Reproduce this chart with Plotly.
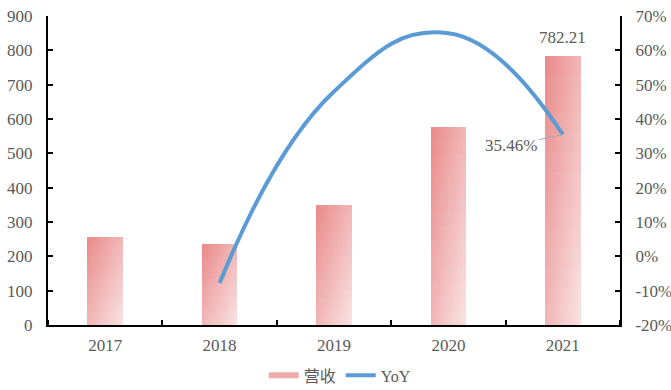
import plotly.graph_objects as go

years = ["2017", "2018", "2019", "2020", "2021"]
revenue = [256, 236, 350, 577.4, 782.21]
yoy = [None, -7.8, 48.0, 65.0, 35.46]
left_ticks = [0, 100, 200, 300, 400, 500, 600, 700, 800, 900]
right_ticks = [-20, -10, 0, 10, 20, 30, 40, 50, 60, 70]

font_serif = "Liberation Serif, Times New Roman, serif"
grey = "#595959"
xpos = list(range(len(years)))

fig = go.Figure()

# 2-D gradient bars via slices (horizontal) and stacked segments (vertical)
N = 12
M = 14
W = 0.31
c0 = (234, 140, 140)   # top-left
c1 = (248, 224, 224)   # bottom-right
for i in range(N):
    for j in range(M):
        t = 0.5 * (i / (N - 1)) + 0.5 * (1 - j / (M - 1))
        col = "rgb(%d,%d,%d)" % tuple(round(a + (b - a) * t) for a, b in zip(c0, c1))
        wmul = 1.0 if i == N - 1 else 1.4
        hmul = 1.0 if j == M - 1 else 1.3
        fig.add_trace(go.Bar(
            x=xpos, y=[v / M * hmul for v in revenue],
            base=[v * j / M for v in revenue],
            width=W / N * wmul, offset=-W / 2 + i * W / N,
            marker=dict(color=col, line=dict(width=0)), showlegend=False,
            hoverinfo="skip", yaxis="y"))

fig.add_trace(go.Scatter(x=[-10, -9], y=[0, 0], name="营收", mode="lines",
                         line=dict(color="rgb(238,172,172)", width=6), yaxis="y"))

fig.add_trace(go.Scatter(x=xpos, y=yoy, name="YoY", mode="lines",
                         line=dict(color="#5B9BD5", width=4, shape="spline", smoothing=1.3),
                         yaxis="y2"))

fig.add_annotation(x=4, y=revenue[4], yref="y", text="782.21", showarrow=False,
                   yshift=19, font=dict(family=font_serif, size=17, color=grey))
fig.add_annotation(x=4, y=yoy[4], yref="y2", text="35.46%", showarrow=True,
                   arrowhead=0, arrowwidth=1, arrowcolor="#A6A6A6", ax=-52, ay=11,
                   font=dict(family=font_serif, size=17, color=grey))

axis_common = dict(showline=True, linecolor="black", linewidth=2,
                   showgrid=False, zeroline=False,
                   tickfont=dict(family=font_serif, size=17, color=grey))
ytick = dict(ticks="inside", ticklen=5, tickwidth=2, tickcolor="black", ticklabelstandoff=10)

fig.update_layout(
    width=671, height=390,
    margin=dict(l=48, r=51, t=16, b=65, autoexpand=False),
    plot_bgcolor="white", paper_bgcolor="white",
    barmode="overlay", bargap=0,
    xaxis=dict(range=[-0.5, 4.5], tickvals=xpos, ticktext=years, ticks="",
               ticklabelstandoff=4,
               minor=dict(tick0=-0.5, dtick=1, ticks="inside", ticklen=5, tickwidth=2,
                          tickcolor="black", showgrid=False),
               **axis_common),
    yaxis=dict(range=[0, 900], tickvals=left_ticks, **ytick, **axis_common),
    yaxis2=dict(range=[-20, 70], tickvals=right_ticks, ticktext=[f"{v}%" for v in right_ticks],
                overlaying="y", side="right", **ytick, **axis_common),
    legend=dict(orientation="h", x=0.51, xanchor="center",
                y=-0.163, yanchor="middle", tracegroupgap=0,
                font=dict(family="Liberation Serif, Noto Sans CJK SC", size=16, color=grey)),
    showlegend=True,
)

fig.write_html("out.html")
